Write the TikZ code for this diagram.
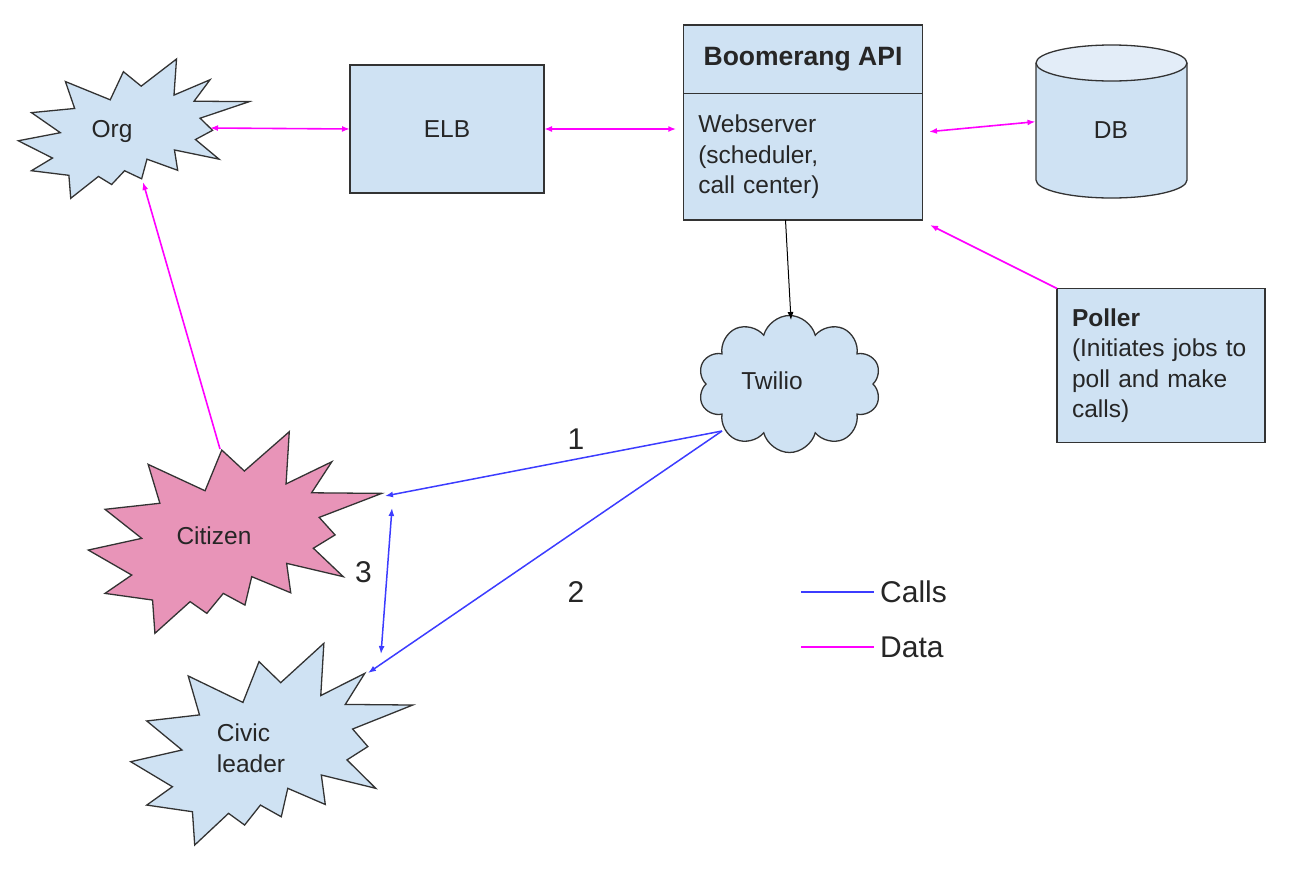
\documentclass[tikz,border=0pt]{standalone}
\usepackage{fontspec}
\setmainfont{Liberation Sans}
\usepackage{tikz}
\usetikzlibrary{arrows.meta,positioning,shapes.symbols}
\usepackage{xcolor}
\definecolor{boxblue}{HTML}{CFE2F3}
\definecolor{dbtop}{HTML}{E3EDF8}
\definecolor{citpink}{RGB}{232,148,184}
\definecolor{datamag}{HTML}{FF00FF}
\definecolor{callblue}{HTML}{3C3CFF}
\definecolor{edge}{HTML}{333333}
\tikzset{explosion/.pic={
\path[pic actions] (0,58.7) -- (18.2,52.9) -- (5.7,38.5) -- (24.4,35.5) -- (20.4,16.2) -- (39.8,29.3)
	-- (45.5,9.1) -- (53.2,19.5) -- (68.5,0) -- (67.4,25.9) -- (83,14.9) -- (76.1,30.3)
	-- (100,30.6) -- (78.7,42.5) -- (84.1,51.2) -- (76.7,57.8) -- (86.9,71.9) -- (67.6,65.3)
	-- (69,79.9) -- (55.7,71.9) -- (53.4,86) -- (46,80.2) -- (40.4,90.1) -- (34.7,84.3)
	-- (22.7,100) -- (21.9,83.5) -- (5.7,80.2) -- (14.8,71.1) -- cycle;
}}

\begin{document}
\begin{tikzpicture}[x=1pt, y=-1pt, >={Latex[length=8pt, width=6pt]}, font=\fontsize{24.5}{30.5}\selectfont]
\tikzstyle{every node} = [inner sep=0pt, text=black!85]
\tikzstyle{box} = [draw=edge, line width=1.3pt, fill=boxblue, outer sep=0pt]
\tikzstyle{data} = [->, datamag, line width=1.6pt]
\tikzstyle{calls} = [->, callblue, line width=1.5pt]
\tikzstyle{big} = [font=\fontsize{30}{36}\selectfont]
\useasboundingbox (0,0) rectangle (1312,884);
\pic[box, xscale=2.31, yscale=1.393] at (18.3,59) {explosion};
\pic[box, fill=citpink, xscale=2.934, yscale=2.016] at (88.3,431.7) {explosion};
\pic[box, xscale=2.82, yscale=2.017] at (130.7,643.3) {explosion};
\node (org) at (112,131) {Org};
\node (cit) at (214,536) {Citizen};
\node[align=left] (civ) at (251,748) {Civic\\leader};
\node[box, minimum width=194, minimum height=128] (elb) at (447,129) {ELB};
\node[box, minimum width=239.5, minimum height=68.3, font=\fontsize{26.5}{32}\selectfont\bfseries] (title) at (803,59.2) {Boomerang API};
\node[box, minimum width=239.5, minimum height=126.7, text width=209.5, inner xsep=15, align=left, below=0pt of title] (web) {Webserver\\(scheduler,\\call center)};
\draw[box] (1036,63) -- (1036,180) arc[start angle=180, end angle=360, x radius=75.5pt, y radius=18pt] -- (1187,63);
\draw[box, fill=dbtop] (1111.5,63) ellipse [x radius=75.5pt, y radius=18pt];
\node (db) at (1111,130) {DB};
\node[cloud, box, cloud puffs=10, aspect=1.35, minimum width=183, minimum height=137] (twil) at (789.5,384) {};
\node (twtxt) at (772,381) {Twilio};
\node[box, minimum width=208, minimum height=154, text width=178, inner xsep=15, align=left] (poll) at (1161,365.5) {\textbf{Poller}\\(Initiates jobs to\\poll and make\\calls)};
\node[big] (one) at (576,439) {1};
\node[big] (two) at (576,592) {2};
\node[big] (three) at (363.5,572) {3};
\coordinate (orgE) at (210,128);
\coordinate (orgS) at (143,182);
\coordinate (citN) at (220,449);
\coordinate (citE) at (385,496);
\coordinate (cit3) at (392,508);
\coordinate (civ3) at (381,654);
\coordinate (civNE) at (368,673);
\coordinate (webE) at (929,131.7);
\coordinate (webSE) at (930,225);
\coordinate (webS) at (785.5,220);
\coordinate (dbW) at (1035.5,121.7);
\coordinate (twN) at (791,320);
\coordinate (twSW) at (722,431);
\draw[data, <->] (orgE) -- (elb.west);
\draw[data, <->, shorten >=7pt] (elb.east) -- (elb.east -| web.west);
\draw[data, <->] (webE) -- (dbW);
\draw[data] (poll.north west) -- (webSE);
\draw[data] (citN) -- (orgS);
\draw[->, black, line width=1pt] (webS) -- (twN);
\draw[calls] (twSW) -- (citE);
\draw[calls] (twSW) -- (civNE);
\draw[calls, <->] (cit3) -- (civ3);
\coordinate (cl1) at (801,592);
\coordinate (cl2) at (874,592);
\coordinate (dl1) at (801,647);
\coordinate (dl2) at (874,647);
\draw[callblue, line width=1.5pt] (cl1) -- (cl2);
\draw[datamag, line width=1.5pt] (dl1) -- (dl2);
\node[big, anchor=west, right=6pt of cl2] (calls) {Calls};
\node[big, anchor=west, right=6pt of dl2] (data) {Data};
\end{tikzpicture}
\end{document}
